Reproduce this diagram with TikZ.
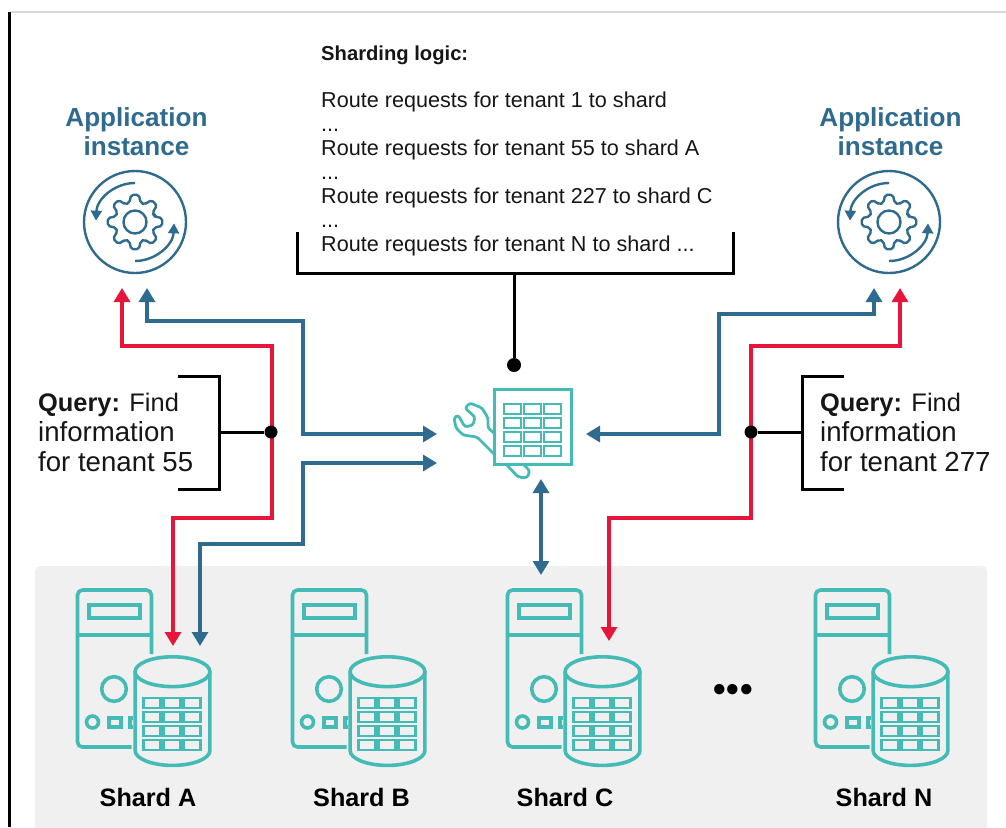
\documentclass[tikz,border=0pt]{standalone}
\usepackage{fontspec}
\setmainfont{Liberation Sans}
\usetikzlibrary{arrows.meta,positioning,calc}
\definecolor{appblue}{HTML}{2F6B8F}
\definecolor{qred}{HTML}{E8153A}
\definecolor{iconteal}{HTML}{45BBB6}
\definecolor{shardgray}{HTML}{F0F0F0}
\definecolor{inktext}{HTML}{161616}
\newcommand{\threedots}{...}
\newcommand{\queryhead}{{\fontsize{25.4}{30}\selectfont\textbf{Query:} Find}}
\tikzset{
  blueline/.style={draw=appblue,line width=3.2pt,{Triangle[length=14pt,width=16pt]}-{Triangle[length=14pt,width=16pt]}},
  redline/.style={draw=qred,line width=3.2pt,{Triangle[length=14pt,width=16pt]}-{Triangle[length=14pt,width=16pt]}},
  bracketline/.style={draw=black,line width=3pt},
  blackdot/.style={fill=black,circle,inner sep=0pt,minimum size=14pt},
  apptext/.style={font=\fontsize{26.1}{30}\selectfont\bfseries,text=appblue,align=center},
  logictext/.style={font=\fontsize{21.6}{22}\selectfont,text=inktext,anchor=base west,inner sep=0pt},
  querytext/.style={font=\fontsize{27.6}{30}\selectfont,text=inktext,align=left,anchor=west,inner sep=0pt},
  shardtext/.style={font=\fontsize{25.2}{26}\selectfont\bfseries,text=black},
  % the table of small cells, used by the router and the databases
  cellgrid/.pic={
    \foreach \c in {0,1,2}
      \foreach \r in {0,1,2,3}
        \draw[iconteal,line width=2.2pt] (\c*20,\r*14) rectangle ++(17,10);
  },
  % circle with two turning arrows and a gear
  geardial/.pic={
    \draw[appblue,line width=2.4pt] (0,0) circle (51);
    \draw[appblue,line width=2.4pt,-{Triangle[length=10pt,width=11pt]}] (0,-39) arc[start angle=-90,end angle=-178,radius=39];
    \draw[appblue,line width=2.4pt,-{Triangle[length=10pt,width=11pt]}] (0,39) arc[start angle=90,end angle=2,radius=39];
    \draw[appblue,line width=2.4pt] (0,0) circle (11.5);
    \draw[appblue,line width=2.4pt,rounded corners=2pt] (-16.5:20)
      \foreach \a in {0,45,...,315} {
        -- (\a-16.5:20) -- (\a-8:27.5) -- (\a+8:27.5) -- (\a+16.5:20)
      } -- cycle;
  },
  % server tower with a database in front of it
  shardserver/.pic={
    \draw[iconteal,line width=3.6pt,rounded corners=5pt] (54,157) -- (0,157) -- (0,0) -- (74,0) -- (74,64);
    \draw[iconteal,line width=3.6pt] (0,45) -- (74,45);
    \draw[iconteal,line width=3.6pt] (11.5,15) rectangle (62.5,28);
    \draw[iconteal,line width=3.6pt] (36.5,99) circle (12.3);
    \draw[iconteal,line width=3.6pt] (15,132) circle (6);
    \draw[iconteal,line width=3.6pt] (31.5,128) rectangle (43.5,137);
    \draw[iconteal,line width=3.6pt] (55,128) -- (52.5,128) -- (52.5,137) -- (55,137);
    \draw[iconteal,line width=3.6pt] (95,81.7) ellipse (37.4 and 14.9);
    \draw[iconteal,line width=3.6pt] (57.6,81.7) -- (57.6,160.5) arc[start angle=180,end angle=360,x radius=37.4,y radius=-14.9] -- (132.4,81.7);
    \pic at (66,108) {cellgrid};
  }
}
\begin{document}
\begin{tikzpicture}[x=1pt,y=-1pt]
\useasboundingbox (0,0) rectangle (1006,827);
% frame lines of the page
\draw[black!15,line width=1.2pt] (11,12) -- (1006,12);
\draw[black,line width=3pt] (9.5,12) -- (9.5,827);
% the gray band behind the shards
\fill[shardgray,rounded corners=5pt] (35,566) rectangle (987,840);
% the shards
\foreach \name/\x/\lx/\lab in {A/77.5/148/Shard A,B/292.5/361.5/Shard B,C/507.5/565/Shard C,N/815.5/884/Shard N}{
  \pic at (\x,590) {shardserver};
  \node[shardtext] (shard\name) at (\lx,797) {\lab};
}
\node[font=\fontsize{36}{36}\selectfont\bfseries] (shardgap) at (733,693) {\textbullet\kern1pt\textbullet\kern1pt\textbullet};
% the application instances
\node[apptext] (appL) at (136.5,131.5) {Application\\[-1pt]instance};
\node[apptext] (appR) at (890.5,131.5) {Application\\[-1pt]instance};
\pic at (135,222) {geardial};
\pic at (889,222) {geardial};
% the router in the middle
\node[draw=iconteal,line width=3pt,minimum width=77pt,minimum height=75pt,inner sep=0pt] (router) at (532.5,426.5) {};
\pic at (504,404) {cellgrid};
\draw[iconteal,line width=2.8pt,rounded corners=2.5pt] (494,433) -- (488,428) -- (488,418) -- (482,408) -- (470,403) -- (465,408) -- (475,417) -- (473,425) -- (465,427) -- (458,415) -- (454,418) -- (456,428) -- (463,435) -- (477,437) -- (494,454);
\draw[iconteal,line width=2.8pt,rounded corners=3pt] (506,464) -- (518,477) -- (527,478) -- (530,471) -- (523,464);
% the sharding logic text
\node[logictext,font=\fontsize{20.2}{22}\selectfont\bfseries] (logichead) at (321,60) {Sharding logic:};
\foreach \y/\lab in {107/Route requests for tenant 1 to shard,131/\threedots,155/Route requests for tenant 55 to shard A,179/\threedots,203/Route requests for tenant 227 to shard C,227/\threedots,251/Route requests for tenant N to shard \threedots}
  \node[logictext] at (321,\y) {\lab};
% bracket of the logic and its dot
\node[blackdot] (logicdot) at (514,365) {};
\coordinate (logicmid) at (514,273);
\draw[bracketline] (297,232) -- (297,273) -- (733,273) -- (733,232);
\draw[bracketline] (logicmid) -- (logicdot);
% the queries
\node[querytext] (queryL) at (38,432) {\queryhead\\information\\for tenant 55};
\node[querytext] (queryR) at (820,432) {\queryhead\\information\\for tenant 277};
\draw[bracketline] (178,376) -- (219,376) -- (219,489) -- (178,489);
\draw[bracketline] (844,376) -- (802,376) -- (802,489) -- (844,489);
% ends and bends of the connectors
\coordinate (appLred) at (122,288);
\coordinate (appLblue) at (147,288);
\coordinate (appRblue) at (874,288);
\coordinate (appRred) at (900,288);
\coordinate (routerUL) at (437,434);
\coordinate (routerLL) at (437,463);
\coordinate (routerE) at (586,434);
\coordinate (routerS) at (541,479);
\coordinate (shardAred) at (173,646);
\coordinate (shardAblue) at (200,646);
\coordinate (shardCred) at (609,641);
\coordinate (shardCtop) at (541,575);
\coordinate (bendL) at (272,346);
\coordinate (bendR) at (751,346);
% the connectors
\draw[redline] (appLred) |- (bendL) -- (bendL |- 0,518) -| (shardAred);
\draw[blueline] (appLblue) |- (303,321) |- (routerUL);
\draw[blueline] (shardAblue) |- (303,544) |- (routerLL);
\draw[redline] (appRred) |- (bendR) -- (bendR |- 0,518) -| (shardCred);
\draw[blueline] (appRblue) |- (719,314) |- (routerE);
\draw[blueline] (routerS) -- (shardCtop);
% the dots on the red lines
\node[blackdot,minimum size=13pt] (dotL) at (271,432) {};
\node[blackdot,minimum size=13pt] (dotR) at (751,432) {};
\draw[bracketline] (219,432) -- (dotL);
\draw[bracketline] (802,432) -- (dotR);
\end{tikzpicture}
\end{document}
